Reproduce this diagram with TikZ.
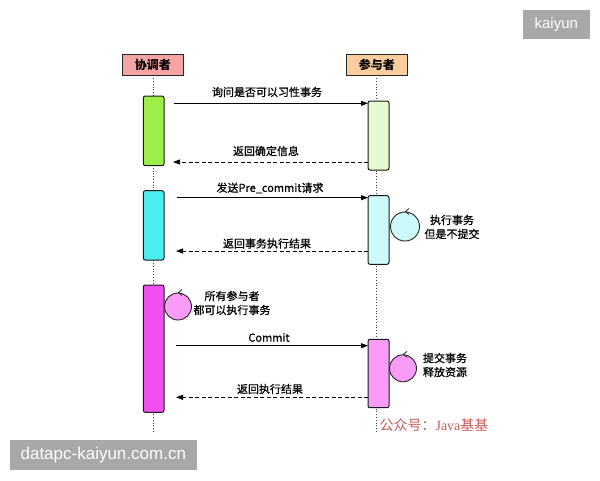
\documentclass[tikz,border=0pt]{standalone}
\usepackage{fontspec}
\setmainfont{Noto Sans CJK SC}
\newfontfamily\cjk{Noto Sans CJK SC}
\newfontfamily\cjkm[FakeBold=0.7]{Noto Sans CJK SC}
\newfontfamily\wmfont{Liberation Sans}
\newfontfamily\serifl{Liberation Serif}
\usetikzlibrary{arrows.meta}
\definecolor{hdrL}{HTML}{F5A3A3}
\definecolor{hdrR}{HTML}{FBCD9C}
\definecolor{gA}{HTML}{9EEE4A}
\definecolor{gB}{HTML}{E6F8CF}
\definecolor{cA}{HTML}{4AEEEE}
\definecolor{cB}{HTML}{CCFAFA}
\definecolor{mA}{HTML}{F050F0}
\definecolor{mB}{HTML}{F89CF8}
\definecolor{wm}{HTML}{A8A8A8}
\definecolor{pubred}{HTML}{C85A5A}
\tikzset{
  hdr/.style={draw=black!85, line width=0.8pt, minimum width=61pt, minimum height=21pt, inner sep=0pt, font=\cjk\bfseries\fontsize{12}{12}\selectfont},
  actbox/.style={draw=black!90, line width=1pt, rounded corners=2pt},
  life/.style={dotted, line width=0.8pt, black!75},
  msg/.style={-{Triangle[length=7pt,width=5pt]}, line width=0.9pt},
  ret/.style={-{Triangle[length=7pt,width=5pt]}, line width=0.9pt, dash pattern=on 4pt off 2.5pt},
  lbl/.style={font=\cjkm\fontsize{11}{11}\selectfont, inner sep=0pt},
  two/.style={font=\cjkm\fontsize{11}{14}\selectfont, align=center, inner sep=0pt},
  loop/.style={draw=black!85, line width=0.9pt},
}
\begin{document}
\begin{tikzpicture}[x=1pt,y=-1pt]
\useasboundingbox (0,0) rectangle (600,480);
\fill[white] (0,0) rectangle (600,480);
% headers
\node[hdr, fill=hdrL] (coord) at (152.8,64.5) {协调者};
\node[hdr, fill=hdrR] (part) at (376.8,64.5) {参与者};
% lifelines
\coordinate (lend) at (153.3,432);
\coordinate (rend) at (376.7,432);
\draw[life] (coord.south -| lend) -- (lend);
\draw[life] (part.south -| rend) -- (rend);
% activation boxes
\draw[actbox, fill=gA] (143.3,96) rectangle (164,165.7);
\draw[actbox, fill=gB] (368,101) rectangle (389,170);
\draw[actbox, fill=cA] (143.3,190.7) rectangle (164,260);
\draw[actbox, fill=cB] (368,195.7) rectangle (389,264.3);
\draw[actbox, fill=mA] (143.3,285) rectangle (164,412.3);
\draw[actbox, fill=mB] (368,339.3) rectangle (389,407.7);
% message anchors
\coordinate (a1s) at (174,103.3); \coordinate (a1e) at (368,103.3);
\coordinate (a2s) at (368,162); \coordinate (a2e) at (173,162);
\coordinate (a3s) at (176.7,197.7); \coordinate (a3e) at (368,197.7);
\coordinate (a4s) at (368,251); \coordinate (a4e) at (176,251);
\coordinate (a5s) at (176,345.7); \coordinate (a5e) at (368,345.7);
\coordinate (a6s) at (368,397.3); \coordinate (a6e) at (176,397.3);
\draw[msg] (a1s) -- (a1e);
\draw[ret] (a2s) -- (a2e);
\draw[msg] (a3s) -- (a3e);
\draw[ret] (a4s) -- (a4e);
\draw[msg] (a5s) -- (a5e);
\draw[ret] (a6s) -- (a6e);
\node[lbl] (t1) at (267,92) {询问是否可以习性事务};
\node[lbl] (t2) at (266,151) {返回确定信息};
\node[lbl] (t3) at (270,188) {发送Pre\_commit请求};
\node[lbl] (t4) at (267,243.5) {返回事务执行结果};
\node[lbl] (t5) at (269,337.5) {Commit};
\node[lbl] (t6) at (270,389) {返回执行结果};
% self loops
\node[loop, circle, fill=cB, minimum size=29pt, inner sep=0pt] (c1) at (405,226.5) {};
\node[loop, circle, fill=mB, minimum size=27pt, inner sep=0pt] (c2) at (178,306.5) {};
\node[loop, circle, fill=mB, minimum size=27pt, inner sep=0pt] (c3) at (403,368.3) {};
\foreach \c in {c1,c2,c3}{
  \draw[line width=0.8pt, black!85] ([xshift=4pt,yshift=3pt]\c.north) -- ([xshift=0.5pt]\c.north) -- ([xshift=4pt,yshift=-3pt]\c.north);
}
\node[two] (d1) at (452,227) {执行事务\\但是不提交};
\node[two] (d2) at (232,303) {所有参与者\\都可以执行事务};
\node[two] (d3) at (445,365) {提交事务\\释放资源};
% public account
\node[inner sep=0pt, text=pubred, font=\fontsize{14}{14}\selectfont] (pub) at (434,425) {公众号：{\serifl Java}基基};
% watermarks
\node[fill=wm, text=white, minimum width=67pt, minimum height=29.5pt, inner sep=0pt, font=\wmfont\fontsize{15}{15}\selectfont] (wm1) at (556.3,24.6) {kaiyun};
\node[fill=wm, text=white, minimum width=186.7pt, minimum height=30pt, inner sep=0pt, font=\wmfont\fontsize{17}{17}\selectfont] (wm2) at (103.3,455) {datapc-kaiyun.com.cn};
\end{tikzpicture}
\end{document}
